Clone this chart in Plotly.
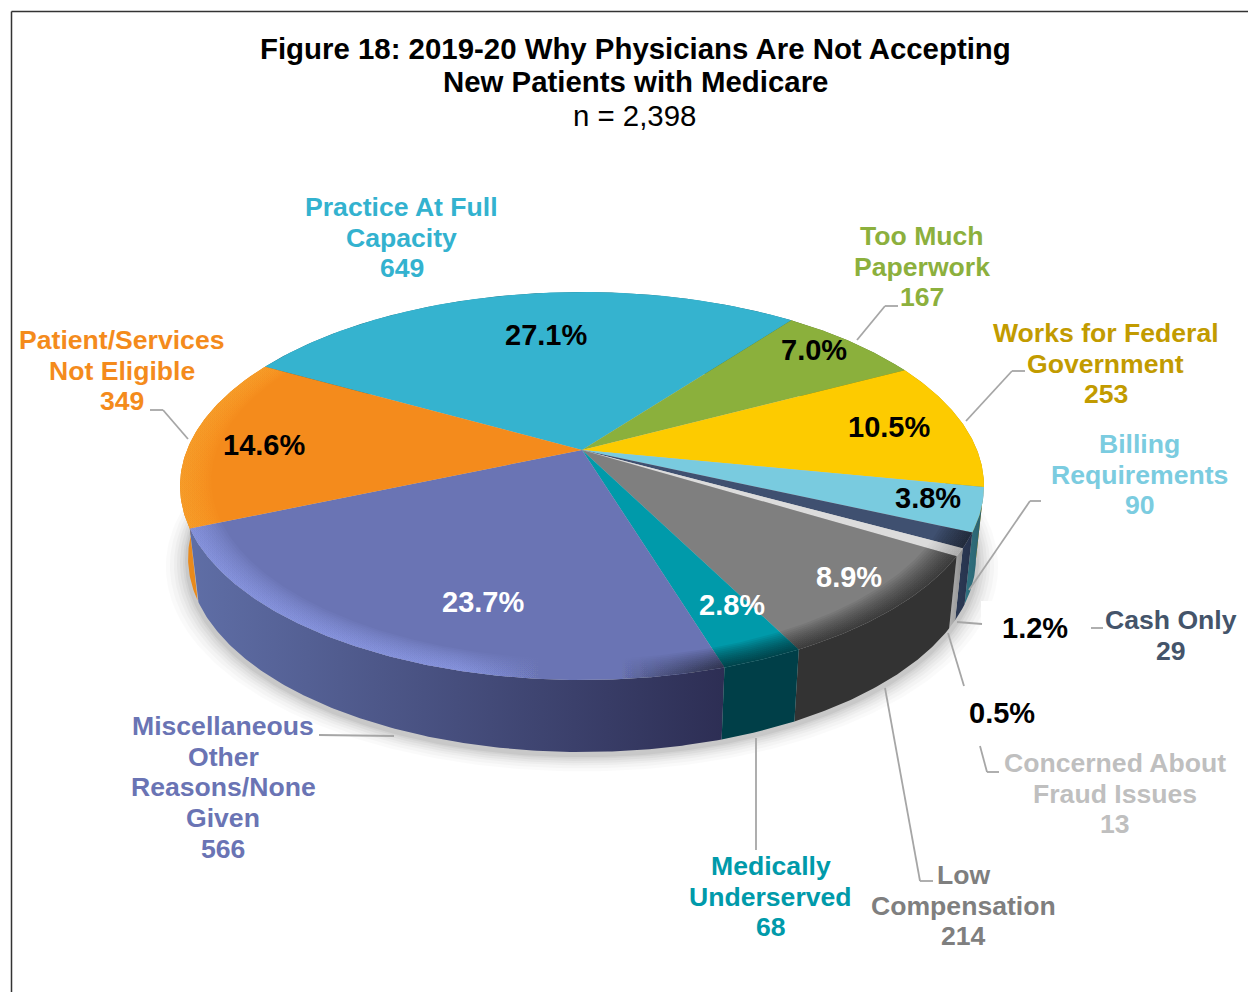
import numpy as np
import plotly.graph_objects as go

# ---- data ----
categories = ["Practice At Full Capacity", "Too Much Paperwork", "Works for Federal Government",
              "Billing Requirements", "Cash Only", "Concerned About Fraud Issues",
              "Low Compensation", "Medically Underserved",
              "Miscellaneous Other Reasons/None Given", "Patient/Services Not Eligible"]
counts = [649, 167, 253, 90, 29, 13, 214, 68, 566, 349]
percents = ["27.1%", "7.0%", "10.5%", "3.8%", "1.2%", "0.5%", "8.9%", "2.8%", "23.7%", "14.6%"]
top_colors = ["#35b3cf", "#8bb03c", "#fdcb00", "#79cbdf", "#3f5070", "#dcdcdc",
              "#7f7f7f", "#009aaa", "#6a74b4", "#f48b1c"]
wall_left = ["#1f6f80", "#55702a", "#b89200", "#2f7382", "#2c3a55", "#b4b4b4",
             "#333333", "#003f48", "#5f6ea6", "#e98a1c"]
wall_right = ["#1f6f80", "#55702a", "#b89200", "#2c5f6b", "#26324c", "#8c8c8c",
              "#333333", "#003f48", "#2d2e54", "#e98a1c"]
title_lines = ["Figure 18: 2019-20 Why Physicians Are Not Accepting", "New Patients with Medicare"]
subtitle = "n = 2,398"
label_lines = [["Practice At Full", "Capacity"], ["Too Much", "Paperwork"], ["Works for Federal", "Government"],
               ["Billing", "Requirements"], ["Cash Only"], ["Concerned About", "Fraud Issues"],
               ["Low", "Compensation"], ["Medically", "Underserved"],
               ["Miscellaneous", "Other", "Reasons/None", "Given"], ["Patient/Services", "Not Eligible"]]
label_colors = ["#33b2cf", "#8cb03d", "#c29b00", "#7bcce0", "#44546a", "#bfbfbf",
                "#7f7f7f", "#009aaa", "#6a74b4", "#f48b1c"]

# ---- layout / geometry (pixels of the 1248x992 page) ----
label_pos = [(401.5, 207), (922, 236), (1105.5, 333), (1139.5, 444), (1171, 620), (1114.5, 763),
             (963, 875), (770.5, 866), (223, 726), (121.5, 340)]
pct_pos = [(546, 335), (814, 350), (889, 427), (928, 498), (1035, 628), (1002, 713),
           (849, 577), (732, 605), (483, 602), (264, 445)]
pct_colors = ["black"] * 6 + ["white"] * 3 + ["black"]
leaders = [[(857, 340), (885, 306), (898, 306)],
           [(966, 421), (1012, 371), (1025, 371)],
           [(969, 590), (1030, 501), (1041, 501)],
           [(957, 622), (982, 624)],
           [(1091, 628), (1103, 628)],
           [(948, 633), (964, 686)],
           [(980, 746), (987, 772), (999, 772)],
           [(885, 688), (920, 881), (933, 881)],
           [(756, 738), (756, 850)],
           [(319, 735), (394, 736)],
           [(150, 410), (163, 410), (188, 439)]]
CX, S, PERSP, A, B = 582.0, 395.0, 0.1856, -103.8, 450.0
START_DEG = -61.0
# small per-edge angle offsets (degrees) that mimic the lens distortion of the original 3-D view
edge_nudge = [0, 1, 1, 1.5, 1, 1.2, 1.6, 1.3, 1.1, 0.5, 0]
DEPTH, BOTTOM_SCALE = 72.0, 0.98
FONT = "Liberation Sans"
N_RINGS = 12
# colour of the bevel on each front slice: (r,g,b) at left, (r,g,b) at right, ring alpha left/right
D = (0, 0, 0)
bevel = {4: (D, D, 0.05, 0.05), 5: (D, D, 0.02, 0.02), 6: (D, D, 0.06, 0.06), 7: (D, D, 0.065, 0.065),
         8: ((150, 165, 245), D, 0.07, 0.065), 9: ((255, 170, 50), (255, 170, 50), 0.06, 0.06)}


def top_xy(theta_deg, r=1.0):
    t = np.radians(theta_deg)
    u, v = r * np.sin(t), r * np.cos(t)
    d = 1 + PERSP * v
    return CX + u * S / d, (A * v + B) / d


def bottom_xy(theta_deg, r=1.0):
    x, y = top_xy(theta_deg, r)
    return CX + (x - CX) * BOTTOM_SCALE, y + DEPTH


total = sum(counts)
edges = START_DEG + 360 * np.concatenate([[0], np.cumsum(counts)]) / total + np.array(edge_nudge)
fig = go.Figure()


def poly(x, y, **kw):
    fig.add_trace(go.Scatter(x=x, y=y, mode="lines", fill="toself", line=dict(width=0),
                             hoverinfo="skip", showlegend=False, **kw))


# soft shadow below the pie
full = np.linspace(0, 360, 361)
for grow, alpha in zip([22, 18, 14, 11, 8, 5, 3], [.018, .022, .026, .03, .035, .04, .05]):
    bx, by = bottom_xy(full)
    poly(CX + (bx - CX) * (1 + grow / 390), by + 3 + (by - 500) * grow / 390 + grow * 0.1,
         fillcolor=f"rgba(0,0,0,{alpha})")

# walls
mid = (edges[:-1] + edges[1:]) / 2
order = np.argsort(np.cos(np.radians(mid)))[::-1]
for i in order:
    th = np.linspace(edges[i], edges[i + 1], max(8, int(edges[i + 1] - edges[i]) * 2))
    tx, ty = top_xy(th)
    bx, by = bottom_xy(th[::-1])
    xs = np.concatenate([tx, bx])
    poly(xs, np.concatenate([ty, by]),
         fillgradient=dict(type="horizontal", colorscale=[[0, wall_left[i]], [1, wall_right[i]]],
                           start=float(xs.min()), stop=float(xs.max())))

# top faces
for i in range(len(counts)):
    th = np.linspace(edges[i], edges[i + 1], max(8, int(edges[i + 1] - edges[i]) * 2))
    tx, ty = top_xy(th)
    poly(np.concatenate([[CX], tx]), np.concatenate([[B], ty]), fillcolor=top_colors[i])


def rgba(c, a):
    return f"rgba({c[0]},{c[1]},{c[2]},{a})"


# bevel on the rim: nested translucent rings, one set per front slice
for i, (cl, cr, al, ar) in bevel.items():
    th = np.linspace(edges[i], edges[i + 1], max(8, int(edges[i + 1] - edges[i]) * 2))
    for k in range(N_RINGS):
        r = 0.925 + 0.075 * k / N_RINGS
        ox, oy = top_xy(th)
        ix, iy = top_xy(th[::-1], r)
        xs = np.concatenate([ox, ix])
        if i == 8:
            scale = [[0, rgba(cl, al)], [0.5, rgba(cl, al)], [0.66, rgba(cl, 0)],
                     [0.8, rgba(cr, 0)], [1, rgba(cr, ar)]]
        else:
            scale = [[0, rgba(cl, al)], [1, rgba(cr, ar)]]
        poly(xs, np.concatenate([oy, iy]),
             fillgradient=dict(type="horizontal", colorscale=scale,
                               start=float(xs.min()), stop=float(xs.max())))

anns = []


def text(x, y, s, size, color, bold=True):
    anns.append(dict(x=x, y=y, text=f"<b>{s}</b>" if bold else s, showarrow=False, xanchor="center",
                     yanchor="middle", font=dict(family=FONT, size=size, color=color)))


text(635, 48, title_lines[0], 29.4, "black")
text(635, 81, title_lines[1], 29.4, "black")
text(634.5, 115, subtitle, 29.4, "black", bold=False)

for i, (lines, (lx, ly)) in enumerate(zip(label_lines, label_pos)):
    for k, ln in enumerate(lines + [f"{counts[i]:,}"]):
        text(lx, ly + k * 30.7, ln, 26.6, label_colors[i])

for i, (px, py) in enumerate(pct_pos):
    text(px, py, percents[i], 29, pct_colors[i])

shapes = [dict(type="rect", x0=981, x1=1082, y0=601, y1=652, fillcolor="white", line_width=0, layer="above"),
          dict(type="line", x0=11.5, x1=1248, y0=11.5, y1=11.5, line=dict(color="#333333", width=1.5), layer="below"),
          dict(type="line", x0=11.5, x1=11.5, y0=11.5, y1=992, line=dict(color="#333333", width=1.5), layer="below")]
for pts in leaders:
    for (x0, y0), (x1, y1) in zip(pts[:-1], pts[1:]):
        shapes.append(dict(type="line", x0=x0, y0=y0, x1=x1, y1=y1, layer="above",
                           line=dict(color="#a6a6a6", width=1.8)))

fig.update_layout(width=1248, height=992, margin=dict(l=0, r=0, t=0, b=0),
                  paper_bgcolor="white", plot_bgcolor="white", showlegend=False,
                  xaxis=dict(range=[0, 1248], visible=False, fixedrange=True),
                  yaxis=dict(range=[992, 0], visible=False, fixedrange=True),
                  annotations=anns, shapes=shapes)
fig.write_html("out.html", config=dict(displayModeBar=False),
               post_script="document.body.style.margin='0';")
